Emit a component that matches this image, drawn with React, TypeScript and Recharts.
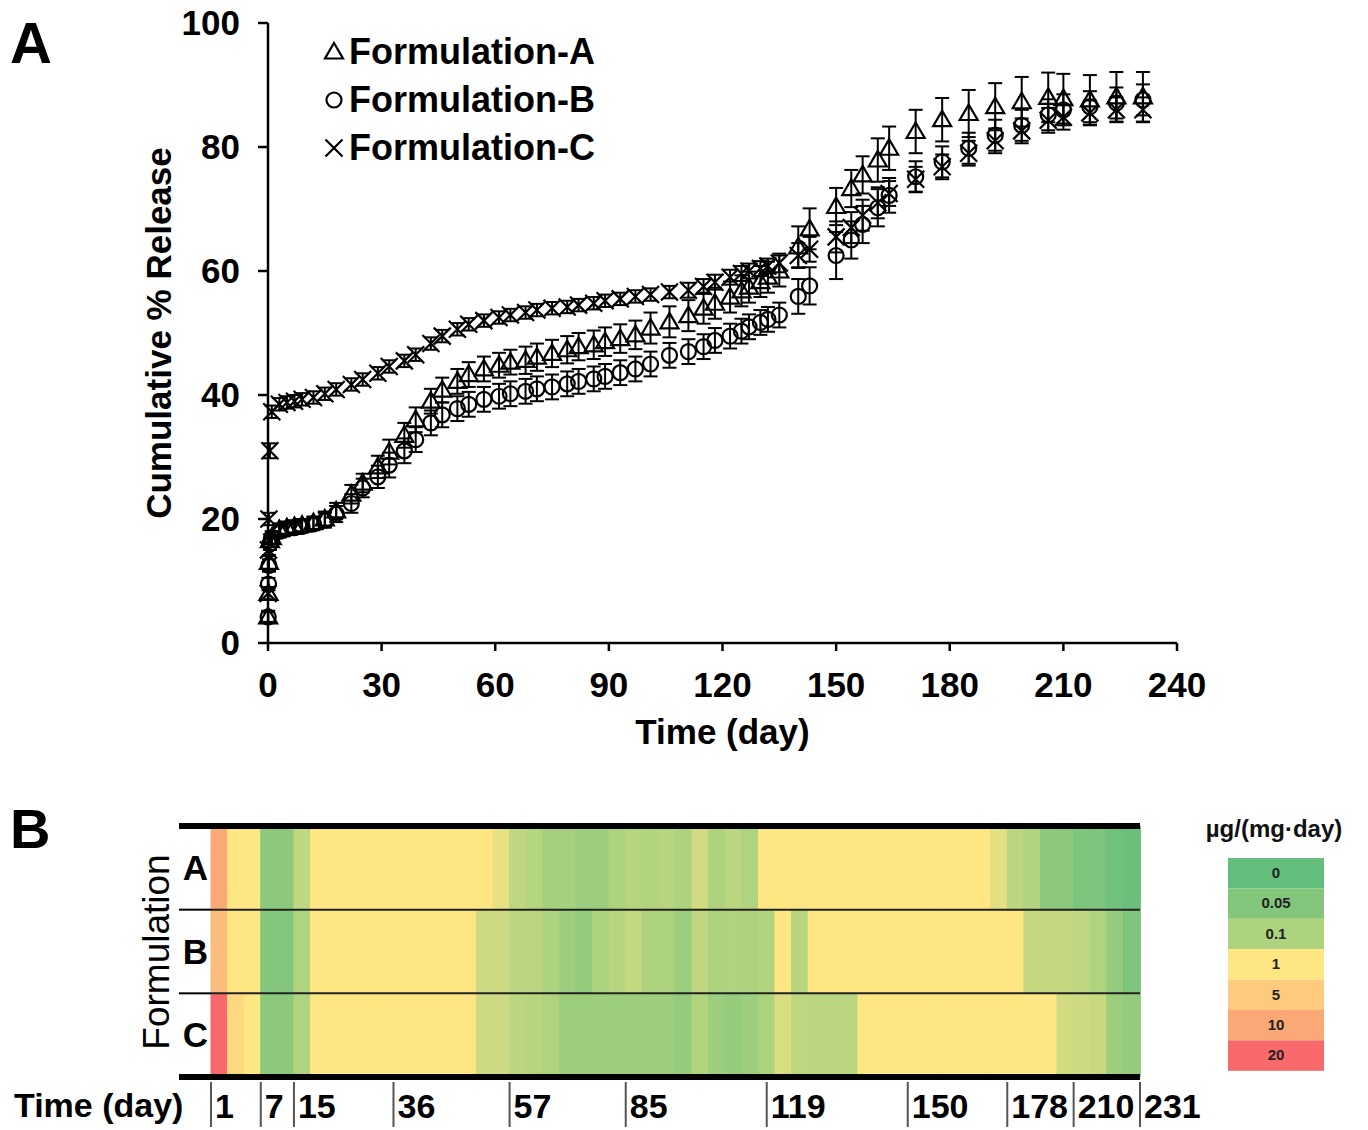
import React from 'react';
import {
  Bar,
  BarChart,
  Cell,
  ErrorBar,
  Legend,
  ReferenceLine,
  Scatter,
  ScatterChart,
  XAxis,
  YAxis,
} from 'recharts';

const FONT = '"Liberation Sans", Arial, Helvetica, sans-serif';

// ---------- panel A: cumulative % release ----------
const days = [
  0.04, 0.125, 0.25, 0.5, 1, 3, 5, 7, 9, 12,
  15, 18, 22, 25, 29, 32, 36, 39, 43, 46,
  50, 53, 57, 61, 64, 68, 71, 75, 79, 82,
  86, 89, 93, 97, 101, 106, 111, 115, 118, 122,
  125, 127, 130, 132, 135, 140, 143, 150, 154, 157,
  161, 164, 171, 178, 185, 192, 199, 206, 210, 217,
  224, 231,
];

const relA = [
  4.2, 8, 13, 16.5, 17, 18.3, 18.6, 18.8, 19, 19.4,
  20, 21.3, 24, 25.8, 28.4, 30.8, 33.5, 36, 39, 40.8,
  42.2, 43.3, 44.2, 44.8, 45.3, 45.6, 46.1, 46.7, 47.3, 47.8,
  48.1, 48.6, 49.1, 49.7, 50.8, 51.8, 52.8, 54, 54.8, 55.8,
  56.8, 57.4, 58.3, 59, 60, 63.9, 66.8, 70.4, 73.3, 75.5,
  77.9, 79.8, 82.5, 84.4, 85.4, 86.5, 87.3, 88, 87.8, 87.6,
  88.1, 88.1,
];
const errA = [
  0.8, 1, 1.2, 1, 1, 1, 1, 1, 1, 1,
  1.2, 1.3, 1.5, 1.5, 1.8, 2, 2, 2, 2, 2,
  2, 2, 2, 2, 2, 2.2, 2.2, 2.2, 2.2, 2.2,
  2.3, 2.3, 2.3, 2.3, 2.5, 2.5, 2.5, 2.5, 2.5, 2.5,
  2.5, 2.5, 2.5, 2.5, 2.5, 3.3, 3.3, 3, 3, 3,
  3.5, 3.5, 3.5, 3.5, 3.8, 3.8, 4, 4, 4, 4,
  4, 4,
];

const relB = [
  4.2, 9.5, 12.5, 16, 17, 18, 18.4, 18.6, 18.8, 19.2,
  19.8, 20.8, 22.5, 25, 26.8, 28.7, 31, 32.8, 35.5, 36.8,
  37.8, 38.5, 39.3, 39.8, 40.2, 40.6, 41, 41.3, 41.8, 42.2,
  42.6, 43, 43.6, 44.2, 45, 46.4, 47, 47.8, 48.8, 49.5,
  50.3, 51, 51.7, 52.2, 52.9, 55.9, 57.6, 62.5, 65, 67.5,
  70.2, 72.2, 75.2, 77.6, 79.8, 81.9, 83.5, 85.2, 86, 86.5,
  87.1, 87.6,
];
const errB = [
  1, 1, 1, 1, 1, 1, 1, 1, 1, 1,
  1.2, 1.3, 1.5, 1.5, 1.8, 2, 2, 2, 2, 2,
  2, 2, 2, 2, 2, 2, 2, 2, 2, 2,
  2, 2, 2, 2, 2, 2, 2, 2, 2, 2,
  2, 2, 2, 2, 2, 2.8, 3, 3.8, 3, 3,
  3, 2.8, 2.5, 2.5, 2.5, 2.5, 2.5, 2.5, 2.5, 2.5,
  2.5, 2.5,
];

const relC = [
  8, 15, 20, 31, 37.3, 38.5, 38.8, 39, 39.3, 39.6,
  40.2, 40.9, 41.7, 42.5, 43.5, 44.6, 45.5, 46.5, 48.3, 49.5,
  50.6, 51.4, 52, 52.5, 52.9, 53.3, 53.7, 54, 54.2, 54.5,
  54.8, 55.2, 55.5, 55.9, 56.2, 56.6, 56.9, 57.5, 58.2, 59,
  59.6, 60, 60.4, 60.8, 61.3, 62.5, 63.5, 65.5, 67, 69,
  71, 72.5, 74.8, 76.8, 79, 81, 82.6, 84.3, 84.8, 85.5,
  86, 86,
];
const errC = [
  1, 1, 1, 1.2, 1, 1, 1, 1, 1, 1,
  1, 1, 1, 1, 1, 1, 1, 1, 1, 1,
  1, 1, 1, 1, 1, 1, 1, 1, 1, 1,
  1, 1, 1, 1, 1, 1, 1.2, 1.2, 1.2, 1.2,
  1.2, 1.2, 1.2, 1.2, 1.5, 2, 2, 2.5, 2.5, 2.5,
  2.5, 2, 2, 2, 2, 2, 2, 2, 2, 2,
  2, 2,
];

const seriesNames = ['Formulation-A', 'Formulation-B', 'Formulation-C'];
const xTicks = [0, 30, 60, 90, 120, 150, 180, 210, 240];
const yTicks = [0, 20, 40, 60, 80, 100];

// ---------- panel B: daily release rate, µg/(mg·day) ----------
const heatA = [
  10, 1, 1, 0.06, 0.06, 0.3, 1, 1, 1, 1,
  1, 1, 1, 1, 1, 1, 1, 0.75, 0.3, 0.2,
  0.09, 0.09, 0.08, 0.08, 0.1, 0.2, 0.15, 0.2, 0.1, 0.5,
  0.1, 0.25, 0.12, 1, 1, 1, 1, 1, 1, 1,
  1, 1, 1, 1, 1, 1, 1, 0.7, 0.25, 0.15,
  0.06, 0.06, 0.04, 0.04, 0.02, 0.01,
];
const heatB = [
  7, 1, 1, 0.05, 0.05, 0.12, 1, 1, 1, 1,
  1, 1, 1, 1, 1, 1, 0.45, 0.45, 0.25, 0.25,
  0.1, 0.08, 0.07, 0.1, 0.2, 0.35, 0.1, 0.1, 0.08, 0.3,
  0.1, 0.12, 0.1, 0.15, 1, 0.2, 1, 1, 1, 1,
  1, 1, 1, 1, 1, 1, 1, 1, 1, 0.35,
  0.35, 0.35, 0.3, 0.12, 0.07, 0.04,
];
const heatC = [
  20, 3, 1, 0.06, 0.06, 0.12, 1, 1, 1, 1,
  1, 1, 1, 1, 1, 1, 0.45, 0.45, 0.25, 0.2,
  0.12, 0.08, 0.08, 0.08, 0.08, 0.08, 0.08, 0.08, 0.07, 0.15,
  0.08, 0.07, 0.08, 0.1, 0.6, 0.3, 0.25, 0.25, 0.25, 1,
  1, 1, 1, 1, 1, 1, 1, 1, 1, 1,
  1, 0.5, 0.45, 0.4, 0.08, 0.07,
];
const heatTickIdx = [0, 3, 5, 11, 18, 25, 33.5, 42, 48, 52, 56];
const heatTickDay = [1, 7, 15, 36, 57, 85, 119, 150, 178, 210, 231];
const rowLabels = ['A', 'B', 'C'];

const scaleStops = [0, 0.05, 0.1, 1, 5, 10, 20];
const scaleColors = ['#63be7b', '#84c67c', '#add37f', '#fee683', '#fdca7e', '#fba877', '#f8696b'];

const rgb = (h: string) => [1, 3, 5].map((k) => parseInt(h.slice(k, k + 2), 16));

// piecewise colour scale between the legend stops
const rateColor = (v: number): string => {
  let i = 0;
  while (i < scaleStops.length - 2 && v > scaleStops[i + 1]) i++;
  const t = Math.max(0, Math.min(1, (v - scaleStops[i]) / (scaleStops[i + 1] - scaleStops[i])));
  const a = rgb(scaleColors[i]);
  const b = rgb(scaleColors[i + 1]);
  const c = a.map((x, k) => Math.round(x + (b[k] - x) * t));
  return `rgb(${c[0]},${c[1]},${c[2]})`;
};

const toPoints = (vals: number[], errs: number[]) =>
  days.map((d, i) => ({ day: d, v: vals[i], err: errs[i] }));

const heatRows = heatA.map((_, i) => ({ pos: i + 0.5, a: 1, b: 1, c: 1 }));

const HM_LEFT = 211;
const HM_RIGHT = 1140;

// ---------- markers ----------
const TriangleMark = ({ cx, cy }: any) => (
  <path
    d={`M${cx},${cy - 9} L${cx + 9},${cy + 6.5} L${cx - 9},${cy + 6.5} Z`}
    fill="none"
    stroke="#000"
    strokeWidth={2.2}
  />
);
const CircleMark = ({ cx, cy }: any) => (
  <circle cx={cx} cy={cy} r={7.5} fill="none" stroke="#000" strokeWidth={2.2} />
);
const CrossMark = ({ cx, cy }: any) => (
  <path
    d={`M${cx - 8.5},${cy - 8.5} L${cx + 8.5},${cy + 8.5} M${cx - 8.5},${cy + 8.5} L${cx + 8.5},${cy - 8.5}`}
    stroke="#000"
    strokeWidth={2.2}
  />
);
const marks = [TriangleMark, CircleMark, CrossMark];

const LegendBody = () => (
  <div style={{ fontFamily: FONT, fontWeight: 'bold', fontSize: 36, color: '#000' }}>
    {seriesNames.map((name, i) => {
      const Mark = marks[i];
      return (
        <div key={name} style={{ display: 'flex', alignItems: 'center', height: 48 }}>
          <svg width={24} height={24} style={{ marginRight: 3 }}>
            <Mark cx={12} cy={12} />
          </svg>
          <span>{name}</span>
        </div>
      );
    })}
  </div>
);

// ---------- heat map axes ----------
const HeatTick = ({ x, y, payload }: any) => {
  const k = heatTickIdx.indexOf(payload.value);
  return (
    <g>
      <line x1={x} x2={x} y1={y + 5} y2={y + 50} stroke="#555" strokeWidth={2} />
      <text x={x + 4} y={y + 41} fontSize={34} fontWeight="bold" fontFamily={FONT} fill="#000">
        {heatTickDay[k]}
      </text>
    </g>
  );
};

const RowTick = ({ x, y, payload }: any) => {
  const v = payload.value;
  if (Number.isInteger(v)) {
    const thick = v === 0 || v === 3;
    return <line x1={x - 32} x2={x} y1={y} y2={y} stroke="#000" strokeWidth={thick ? 6 : 2} />;
  }
  return (
    <text x={x - 3} y={y + 12} textAnchor="end" fontSize={35} fontWeight="bold" fontFamily={FONT} fill="#000">
      {rowLabels[2 - Math.floor(v)]}
    </text>
  );
};

const tickStyle = { fill: '#000', fontSize: 35, fontWeight: 'bold', fontFamily: FONT };

const heatCells = (vals: number[]) =>
  vals.map((v, i) => {
    const col = rateColor(v);
    return <Cell key={i} fill={col} stroke={col} strokeWidth={1} />;
  });

export default function App() {
  return (
    <div style={{ position: 'absolute', left: 0, top: 0, width: 1368, height: 1130, background: '#fff' }}>
      <div style={{ position: 'absolute', left: 0, top: 0 }}>
        <ScatterChart width={1368} height={770} margin={{ top: 23, right: 191, bottom: 0, left: 50 }}>
          <XAxis
            type="number"
            dataKey="day"
            domain={[0, 240]}
            ticks={xTicks}
            interval={0}
            height={127}
            tickSize={8}
            tickMargin={21}
            tick={tickStyle}
            axisLine={{ stroke: '#000', strokeWidth: 2.5 }}
            tickLine={{ stroke: '#000', strokeWidth: 2.5 }}
            label={{
              value: 'Time (day)',
              position: 'insideTop',
              offset: 76,
              style: { fill: '#000', fontSize: 35, fontWeight: 'bold', fontFamily: FONT },
            }}
          />
          <YAxis
            type="number"
            dataKey="v"
            domain={[0, 100]}
            ticks={yTicks}
            interval={0}
            width={218}
            tickSize={10}
            tickMargin={18}
            tick={tickStyle}
            axisLine={{ stroke: '#000', strokeWidth: 2.5 }}
            tickLine={{ stroke: '#000', strokeWidth: 2.5 }}
            label={{
              value: 'Cumulative % Release',
              angle: -90,
              position: 'center',
              style: { fill: '#000', fontSize: 35, fontWeight: 'bold', fontFamily: FONT },
            }}
          />
          <Legend
            layout="vertical"
            align="center"
            verticalAlign="middle"
            wrapperStyle={{ left: 322, top: 28, width: 'auto', height: 'auto' }}
            content={() => <LegendBody />}
          />
          <Scatter name={seriesNames[0]} data={toPoints(relA, errA)} shape={TriangleMark} isAnimationActive={false}>
            <ErrorBar dataKey="err" direction="y" width={7} stroke="#000" strokeWidth={2} isAnimationActive={false} />
          </Scatter>
          <Scatter name={seriesNames[1]} data={toPoints(relB, errB)} shape={CircleMark} isAnimationActive={false}>
            <ErrorBar dataKey="err" direction="y" width={7} stroke="#000" strokeWidth={2} isAnimationActive={false} />
          </Scatter>
          <Scatter name={seriesNames[2]} data={toPoints(relC, errC)} shape={CrossMark} isAnimationActive={false}>
            <ErrorBar dataKey="err" direction="y" width={7} stroke="#000" strokeWidth={2} isAnimationActive={false} />
          </Scatter>
        </ScatterChart>
      </div>

      <div style={{ position: 'absolute', left: 0, top: 800 }}>
        <BarChart
          width={1368}
          height={330}
          data={heatRows}
          margin={{ top: 26, right: 1368 - HM_RIGHT, bottom: 0, left: HM_LEFT - 31 }}
          barGap={0}
          barCategoryGap={0}
        >
          <XAxis
            type="number"
            dataKey="pos"
            domain={[0, heatA.length]}
            ticks={heatTickIdx}
            interval={0}
            height={53}
            tickSize={0}
            tickMargin={0}
            axisLine={false}
            tickLine={false}
            tick={<HeatTick />}
          />
          <YAxis
            type="number"
            domain={[0, 3]}
            ticks={[0, 0.5, 1, 1.5, 2, 2.5, 3]}
            interval={0}
            width={31}
            tickSize={0}
            tickMargin={0}
            axisLine={false}
            tickLine={false}
            tick={<RowTick />}
          />
          <Bar dataKey="c" stackId="s" isAnimationActive={false}>
            {heatCells(heatC)}
          </Bar>
          <Bar dataKey="b" stackId="s" isAnimationActive={false}>
            {heatCells(heatB)}
          </Bar>
          <Bar dataKey="a" stackId="s" isAnimationActive={false}>
            {heatCells(heatA)}
          </Bar>
          <ReferenceLine y={1} stroke="#222" strokeWidth={2} />
          <ReferenceLine y={2} stroke="#222" strokeWidth={2} />
          <ReferenceLine y={0} stroke="#000" strokeWidth={6} />
          <ReferenceLine y={3} stroke="#000" strokeWidth={6} />
        </BarChart>
      </div>

      <svg
        width={1368}
        height={1130}
        style={{ position: 'absolute', left: 0, top: 0, pointerEvents: 'none' }}
        fontFamily={FONT}
      >
        <text x={10} y={63} fontSize={58} fontWeight="bold" fill="#000">A</text>
        <text x={10} y={848} fontSize={56} fontWeight="bold" fill="#000">B</text>
        <text x={14} y={1117} fontSize={34} fontWeight="bold" fill="#000">Time (day)</text>
        <text
          x={156}
          y={952}
          fontSize={37}
          fill="#000"
          textAnchor="middle"
          dominantBaseline="central"
          transform="rotate(-90 156 952)"
        >
          Formulation
        </text>
        <text x={1274} y={837} fontSize={24} fontWeight="bold" fill="#111" textAnchor="middle">
          µg/(mg·day)
        </text>
        {scaleStops.map((s, i) => (
          <g key={s}>
            <rect x={1228} y={858 + i * 30.4} width={96} height={30.4} fill={scaleColors[i]} />
            <text
              x={1276}
              y={858 + i * 30.4 + 20}
              fontSize={15}
              fontWeight="bold"
              fill="#222"
              textAnchor="middle"
            >
              {s}
            </text>
          </g>
        ))}
      </svg>
    </div>
  );
}
